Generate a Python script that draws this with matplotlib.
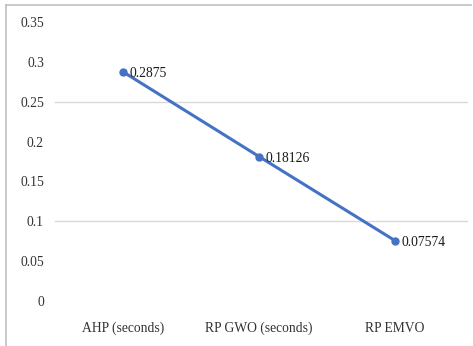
import matplotlib.pyplot as plt
from matplotlib.lines import Line2D

methods = ['AHP (seconds)', 'RP GWO (seconds)', 'RP EMVO']
times = [0.2875, 0.18126, 0.07574]
time_labels = ['0.2875', '0.18126', '0.07574']
yticks = [0, 0.05, 0.1, 0.15, 0.2, 0.25, 0.3, 0.35]
ytick_labels = ['0', '0.05', '0.1', '0.15', '0.2', '0.25', '0.3', '0.35']
grid_levels = [0.1, 0.25]

plt.rcParams['font.family'] = ['Liberation Serif', 'DejaVu Serif']

fig = plt.figure(figsize=(4.73, 3.46), dpi=100)
# light chart-area frame, open to the right and bottom
fx, fy = 5.5 / 473, 1 - 5 / 346
fig.add_artist(Line2D([fx, fx], [0, fy], transform=fig.transFigure, color='#c0c0c0', linewidth=1.2))
fig.add_artist(Line2D([fx, 0.995], [fy, fy], transform=fig.transFigure, color='#c0c0c0', linewidth=1.2))
ax = fig.add_axes([55 / 473, 45 / 346, 408 / 473, 279 / 346])

x = list(range(len(methods)))
for g in grid_levels:
    ax.axhline(g, color='#d9d9d9', linewidth=1.0, zorder=0, xmin=0, xmax=1.01, clip_on=False)

ax.plot(x, times, color='#4472c4', linewidth=2.2, marker='o', markersize=5)
for xi, v, lab in zip(x, times, time_labels):
    ax.annotate(lab, (xi, v), xytext=(5, -1.5), textcoords='offset points',
                fontsize=9.8, color='#1a1a1a', va='center', ha='left')

ax.set_xlim(-0.5, 2.5)
ax.set_ylim(0, 0.35)
ax.set_xticks(x)
ax.set_xticklabels(methods, fontsize=9.8, color='#333333')
ax.set_yticks(yticks)
ax.set_yticklabels(ytick_labels, fontsize=9.8, color='#333333')
ax.tick_params(length=0)
ax.tick_params(axis='x', pad=15)
ax.tick_params(axis='y', pad=8)
for s in ax.spines.values():
    s.set_visible(False)

fig.savefig('out.png', dpi=100)
